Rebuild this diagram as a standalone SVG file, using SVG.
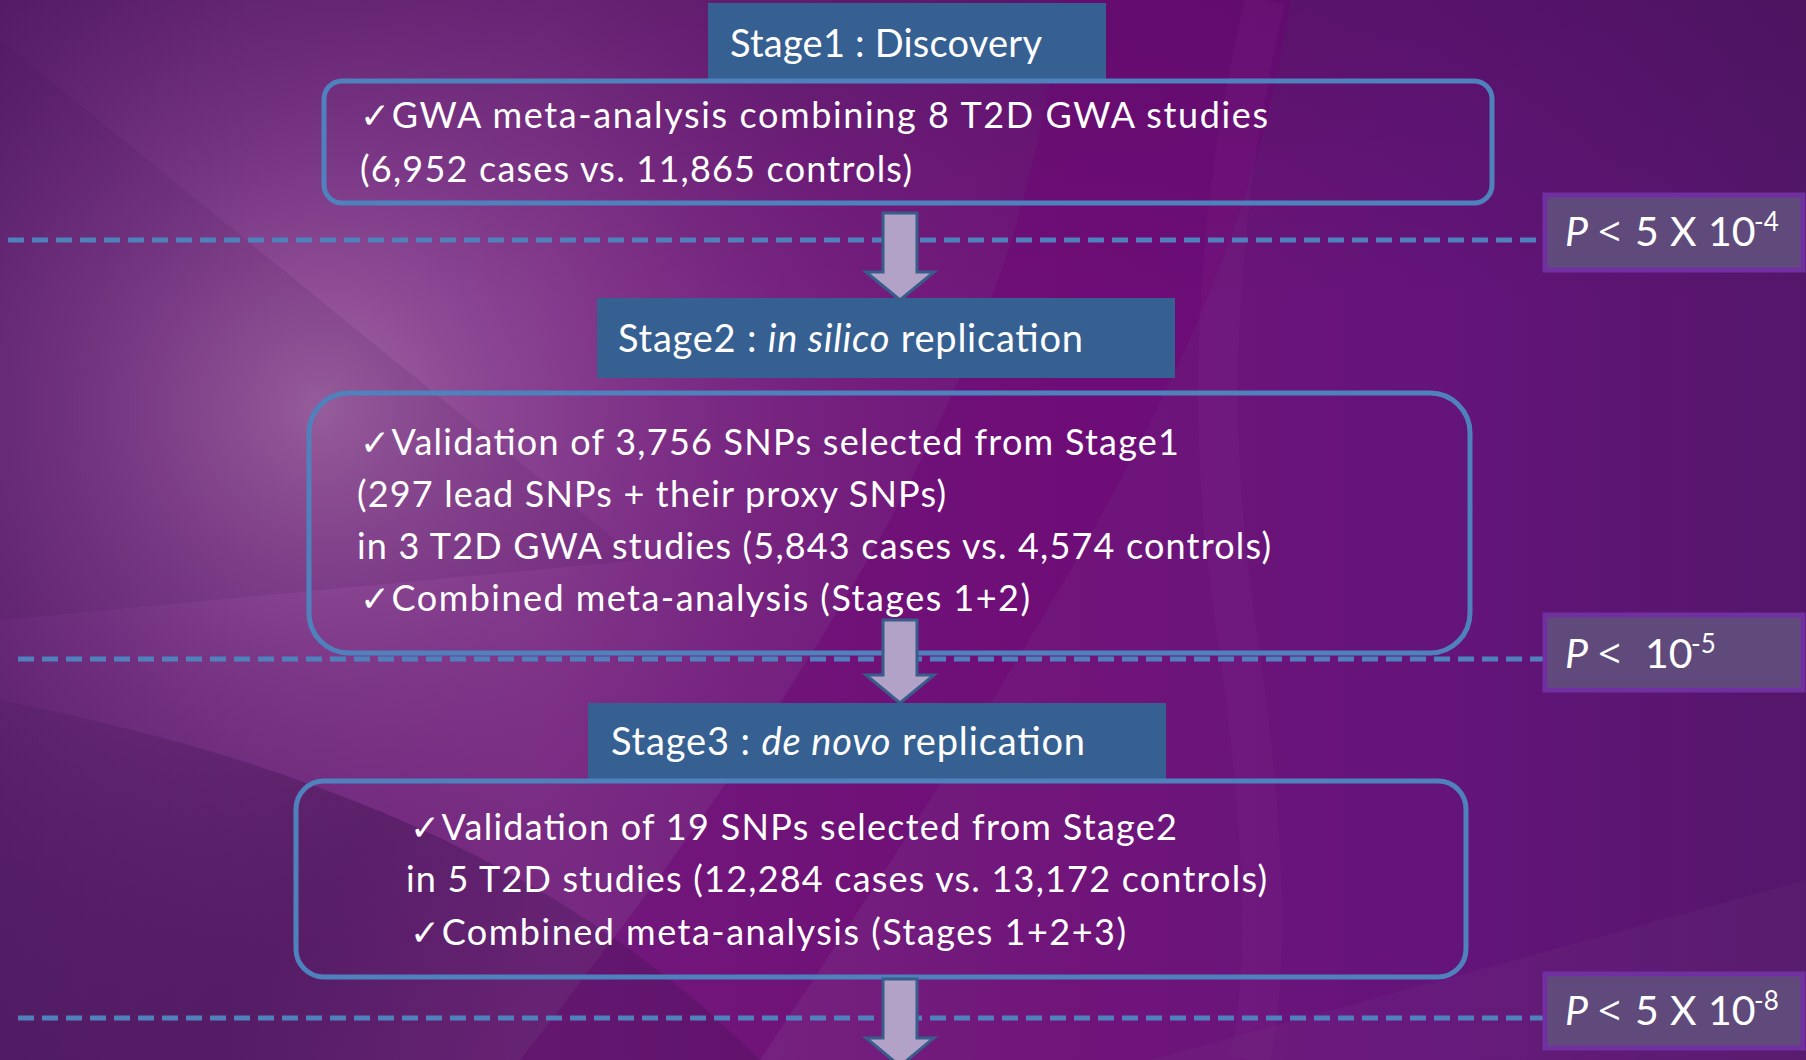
<svg xmlns="http://www.w3.org/2000/svg" width="1806" height="1060" viewBox="0 0 1806 1060">
  <defs>
    <linearGradient id="bgBase" x1="0" y1="0" x2="1806" y2="0" gradientUnits="userSpaceOnUse">
      <stop offset="0" stop-color="#5a206e"/>
      <stop offset="0.3" stop-color="#782a82"/>
      <stop offset="0.6" stop-color="#70147a"/>
      <stop offset="0.8" stop-color="#64147a"/>
      <stop offset="1" stop-color="#54166a"/>
    </linearGradient>
    <radialGradient id="glow" cx="320" cy="410" r="560" gradientUnits="userSpaceOnUse">
      <stop offset="0" stop-color="#a56aa6" stop-opacity="0.95"/>
      <stop offset="0.45" stop-color="#93509a" stop-opacity="0.45"/>
      <stop offset="1" stop-color="#7a2c82" stop-opacity="0"/>
    </radialGradient>
    <linearGradient id="darkLow" x1="0" y1="700" x2="500" y2="1060" gradientUnits="userSpaceOnUse">
      <stop offset="0" stop-color="#3e1250" stop-opacity="0.15"/>
      <stop offset="0.6" stop-color="#3e1250" stop-opacity="0.45"/>
      <stop offset="1" stop-color="#3e1250" stop-opacity="0.3"/>
    </linearGradient>
    <linearGradient id="topDark" x1="0" y1="0" x2="0" y2="300" gradientUnits="userSpaceOnUse">
      <stop offset="0" stop-color="#3e1050" stop-opacity="0.35"/>
      <stop offset="1" stop-color="#3e1050" stop-opacity="0"/>
    </linearGradient>
    <style>
      .label { fill: #366092; }
      .frame { fill: none; stroke: #4f81bd; stroke-width: 5; }
      .pbox { fill: #604a7b; stroke: #7030a0; stroke-width: 5; }
      .cut { fill: none; stroke: #4f81bd; stroke-width: 5; stroke-dasharray: 16 8; }
      .arrow { fill: #b3a2c7; stroke: #385d8a; stroke-width: 3; stroke-linejoin: miter; }
      .t { fill: #ffffff; font-family: Lato, "Open Sans", "Liberation Sans", sans-serif; }
      .body { font-size: 36px; }
      .head { font-size: 38px; }
      .pv { font-size: 41px; }
      .lt { font-family: "Open Sans", sans-serif; font-size: 40px; }
      .sup { font-size: 26px; }
      .ck { font-family: "DejaVu Sans", sans-serif; font-size: 36px; }
    </style>
  </defs>

  <!-- background -->
  <g id="background">
    <rect x="0" y="0" width="1806" height="1060" fill="url(#bgBase)"/>
    <rect x="0" y="0" width="1806" height="300" fill="url(#topDark)"/>
    <rect x="0" y="0" width="1000" height="1060" fill="url(#glow)"/>
    <!-- darker magenta swoosh -->
    <path d="M1060,0 L1290,0 C1250,280 1120,520 760,1060 L520,1060 C850,640 1030,330 1060,0 Z" fill="#6c0474" opacity="0.45"/>
    <!-- faint diagonal facet upper left -->
    <path d="M0,40 L640,560 L0,620 Z" fill="#3e1050" opacity="0.12"/>
    <!-- dark lower-left facet -->
    <path d="M0,700 C300,760 560,860 760,1060 L0,1060 Z" fill="url(#darkLow)"/>
    <!-- lighter arc band -->
    <path d="M1265,0 Q1190,320 1235,620 T1250,1060" fill="none" stroke="#a050a8" stroke-width="40" opacity="0.08"/>
    <!-- lower right facet -->
    <path d="M1150,1060 L1806,880 L1806,1060 Z" fill="#7a4a8a" opacity="0.12"/>
  </g>

  <!-- cut-off lines -->
  <g id="connectors">
    <line class="cut" x1="8" y1="240" x2="1543" y2="240"/>
    <line class="cut" x1="18" y1="659" x2="1543" y2="659"/>
    <line class="cut" x1="18" y1="1018" x2="1543" y2="1018"/>
  </g>

  <g id="stage1">
    <rect class="label" x="708" y="3" width="398" height="76"/>
    <text class="t head" x="730" y="57" textLength="312">Stage1 : Discovery</text>
    <rect class="frame" x="324" y="81" width="1168" height="122" rx="18" ry="18"/>
    <text class="t body" x="360" y="128" textLength="908"><tspan class="ck">✓</tspan>GWA meta-analysis combining 8 T2D GWA studies</text>
    <text class="t body" x="360" y="182" textLength="552">(6,952 cases vs. 11,865 controls)</text>
  </g>

  <g id="stage2">
    <rect class="label" x="597" y="298" width="578" height="80"/>
    <text class="t head" x="618" y="352" textLength="465">Stage2 : <tspan font-style="italic">in silico</tspan> replication</text>
    <rect class="frame" x="309" y="393" width="1161" height="260" rx="40" ry="40"/>
    <text class="t body" x="360" y="455" textLength="819"><tspan class="ck">✓</tspan>Validation of 3,756 SNPs selected from Stage1</text>
    <text class="t body" x="357" y="507" textLength="589">(297 lead SNPs + their proxy SNPs)</text>
    <text class="t body" x="357" y="559" textLength="914">in 3 T2D GWA studies (5,843 cases vs. 4,574 controls)</text>
    <text class="t body" x="360" y="611" textLength="670"><tspan class="ck">✓</tspan>Combined meta-analysis (Stages 1+2)</text>
  </g>

  <g id="stage3">
    <rect class="label" x="588" y="703" width="578" height="77"/>
    <text class="t head" x="611" y="755" textLength="474">Stage3 : <tspan font-style="italic">de novo</tspan> replication</text>
    <rect class="frame" x="296" y="781" width="1170" height="196" rx="28" ry="28"/>
    <text class="t body" x="410" y="840" textLength="767"><tspan class="ck">✓</tspan>Validation of 19 SNPs selected from Stage2</text>
    <text class="t body" x="406" y="892" textLength="861">in 5 T2D studies (12,284 cases vs. 13,172 controls)</text>
    <text class="t body" x="410" y="945" textLength="716"><tspan class="ck">✓</tspan>Combined meta-analysis (Stages 1+2+3)</text>
  </g>

  <!-- flow arrows -->
  <g id="arrows">
    <path class="arrow" d="M883,213 H917 V272 H934 L900,300 L866,272 H883 Z"/>
    <path class="arrow" d="M883,620 H917 V675 H934 L900,703 L866,675 H883 Z"/>
    <path class="arrow" d="M883,979 H917 V1038 H934 L900,1066 L866,1038 H883 Z"/>
  </g>

  <g id="threshold1">
    <rect class="pbox" x="1545" y="195" width="258" height="75"/>
    <text class="t pv" y="246"><tspan x="1565" font-style="italic">P</tspan><tspan class="lt" x="1598">&lt;</tspan><tspan x="1635">5</tspan><tspan x="1670">X</tspan><tspan x="1708">10</tspan><tspan class="sup" x="1754" dy="-15">-4</tspan></text>
  </g>

  <g id="threshold2">
    <rect class="pbox" x="1545" y="615" width="258" height="75"/>
    <text class="t pv" y="668"><tspan x="1565" font-style="italic">P</tspan><tspan class="lt" x="1598">&lt;</tspan><tspan x="1645">10</tspan><tspan class="sup" x="1691" dy="-15">-5</tspan></text>
  </g>

  <g id="threshold3">
    <rect class="pbox" x="1545" y="974" width="258" height="74"/>
    <text class="t pv" y="1025"><tspan x="1565" font-style="italic">P</tspan><tspan class="lt" x="1598">&lt;</tspan><tspan x="1635">5</tspan><tspan x="1670">X</tspan><tspan x="1708">10</tspan><tspan class="sup" x="1754" dy="-15">-8</tspan></text>
  </g>
</svg>
